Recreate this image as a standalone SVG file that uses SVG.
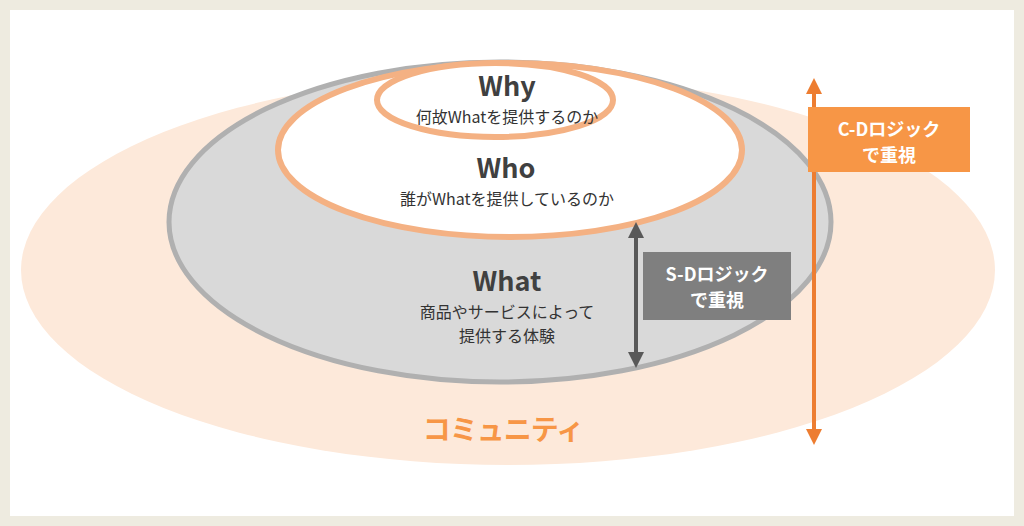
<svg xmlns="http://www.w3.org/2000/svg" width="1024" height="526" viewBox="0 0 1024 526">
<defs>
<style>
.t{font-family:"Noto Sans CJK JP","Noto Sans",sans-serif;text-anchor:middle;fill:#333}
.h{font-weight:bold;font-size:27px;fill:#404040}
.s{font-size:16px}
.w{fill:#fff;font-weight:bold;font-size:18px}
</style>
<marker id="ag" viewBox="0 0 10 10" refX="5" refY="5" markerWidth="4" markerHeight="4" orient="auto-start-reverse"><path d="M0,0L10,5L0,10z" fill="#595959"/></marker>
<marker id="ao" viewBox="0 0 10 10" refX="5" refY="5" markerWidth="4" markerHeight="4" orient="auto-start-reverse"><path d="M0,0L10,5L0,10z" fill="#ed7d31"/></marker>
</defs>
<rect width="1024" height="526" fill="#eeebe0"/>
<rect x="10" y="10" width="1004" height="506" fill="#fff"/>
<g id="community"><ellipse cx="508" cy="270" rx="487" ry="195" fill="#fde9da"/>
<text class="t" x="503" y="440" font-size="28" font-weight="bold" letter-spacing="-1" style="fill:#f79646">コミュニティ</text></g>
<g id="what"><ellipse cx="500" cy="222" rx="331" ry="160" fill="#d9d9d9" stroke="#b0b0b0" stroke-width="5"/>
<text class="t h" x="507" y="291">What</text>
<text class="t s" x="507" y="318">商品やサービスによって</text>
<text class="t s" x="507" y="342">提供する体験</text></g>
<g id="who"><ellipse cx="510" cy="150" rx="232" ry="87" fill="#fff" stroke="#f4b183" stroke-width="6"/>
<text class="t h" x="506" y="178">Who</text>
<text class="t s" x="507" y="205">誰がWhatを提供しているのか</text></g>
<g id="why"><ellipse cx="495" cy="100" rx="118" ry="37" fill="#fff" stroke="#f4b183" stroke-width="6"/>
<text class="t h" x="507" y="96">Why</text>
<text class="t s" x="507" y="123">何故Whatを提供するのか</text></g>
<g id="connectors">
<line x1="636" y1="230" x2="636" y2="360" stroke="#595959" stroke-width="4" marker-start="url(#ag)" marker-end="url(#ag)"/>
<line x1="814" y1="86" x2="814" y2="437" stroke="#ed7d31" stroke-width="4" marker-start="url(#ao)" marker-end="url(#ao)"/>
</g>
<g id="sd"><rect x="643" y="252" width="148" height="68" fill="#7f7f7f"/>
<text class="t w" x="717" y="281">S-Dロジック</text><text class="t w" x="717" y="307">で重視</text></g>
<g id="cd"><rect x="808" y="107" width="162" height="65" fill="#f79646"/>
<text class="t w" x="889" y="136">C-Dロジック</text><text class="t w" x="889" y="162">で重視</text></g>
</svg>
